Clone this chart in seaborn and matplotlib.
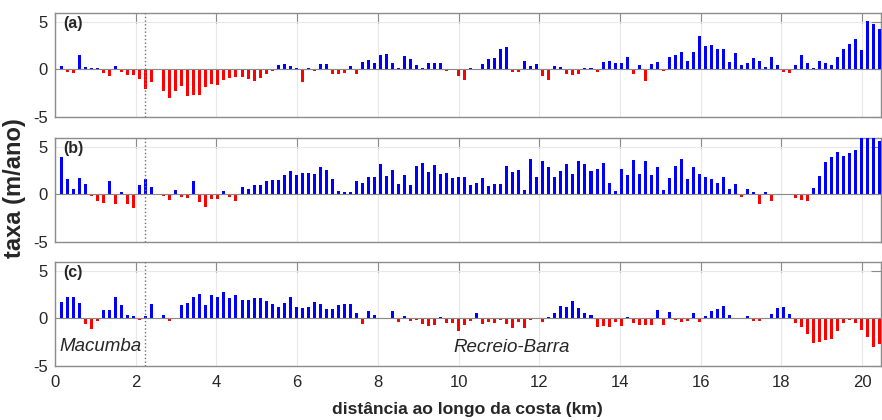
import numpy as np
import pandas as pd
import matplotlib
matplotlib.use('Agg')
import matplotlib.pyplot as plt
import seaborn as sns

# distance along the coast of each profile (km)
dist_km = np.linspace(0.16, 20.44, 137)

# shoreline change rate (m/ano)
taxa_a = [0.35, -0.25, -0.4, 1.5, 0.3, 0.1, 0.1, -0.35, -0.7, 0.4,
          -0.25, -0.6, -0.6, -1.0, -2.1, -1.3, -0.05, -2.3, -3.0, -2.3,
          -1.8, -2.8, -2.75, -2.7, -1.9, -1.55, -1.65, -1.1, -0.95, -0.8,
          -0.75, -1.05, -1.25, -0.95, -0.5, -0.2, 0.5, 0.55, 0.4, 0.15,
          -1.3, 0.2, -0.15, 0.55, 0.6, -0.5, -0.5, -0.4, 0.4, -0.5,
          0.8, 0.95, 0.7, 1.55, 1.6, 0.7, 0.15, 1.4, 1.15, 0.5,
          0.1, 0.7, 0.7, 0.7, -0.15, -0.1, -0.7, -1.15, 0.15, -0.1,
          0.6, 1.1, 1.2, 2.2, 2.4, -0.25, -0.25, 0.85, 0.4, 0.6,
          -0.7, -1.1, 0.35, 0.3, -0.5, -0.55, -0.5, 0.17, 0.17, -0.3,
          0.75, 0.85, 0.7, 0.65, 1.3, -0.5, 0.45, -1.25, 0.6, 0.75,
          -0.15, 1.35, 1.55, 1.8, 0.9, 1.85, 3.55, 2.5, 2.6, 2.15,
          2.2, 0.75, 1.7, 0.5, 0.7, 1.2, 0.9, 0.3, 1.3, 0.45,
          -0.3, -0.4, 0.5, 1.55, 0.7, 0.17, 0.85, 0.65, 0.45, 1.3,
          2.15, 2.65, 3.25, 2.05, 5.1, 4.75, 4.25]
taxa_b = [3.9, 1.6, 0.55, 1.75, 1.05, -0.15, -0.7, -0.95, 1.45, -1.0,
          0.2, -1.0, -1.45, 1.0, 1.65, 0.75, -0.05, -0.15, -0.6, 0.45,
          -0.25, -0.4, 1.45, -0.8, -1.35, -0.5, -0.5, 0.4, -0.3, -0.65,
          0.75, 0.55, 1.0, 1.0, 1.45, 1.55, 1.5, 2.0, 2.5, 2.05,
          2.3, 2.25, 2.15, 2.85, 2.6, 1.65, 0.4, 0.25, 0.25, 1.4,
          1.25, 1.8, 1.8, 3.2, 1.95, 2.55, 1.1, 2.05, 1.0, 3.0,
          3.3, 2.4, 3.1, 2.1, 2.25, 1.75, 1.8, 1.8, 1.0, 1.2,
          1.7, 0.9, 1.1, 1.1, 3.0, 2.4, 2.6, 0.5, 3.7, 1.8,
          3.55, 2.85, 1.8, 2.45, 3.2, 2.15, 3.55, 3.2, 2.5, 2.7,
          3.35, 1.2, 0.35, 2.7, 2.0, 3.65, 2.15, 3.55, 2.0, 2.9,
          0.5, 1.7, 2.95, 3.7, 1.6, 2.85, 2.1, 1.85, 1.6, 1.2,
          1.8, 0.55, 1.1, -0.25, 0.6, 0.2, -1.0, 0.2, -0.75, -0.1,
          -0.1, -0.1, -0.4, -0.55, -0.75, 0.7, 1.9, 3.4, 3.9, 4.5,
          4.1, 4.35, 4.7, 6.3, 6.3, 5.9, 5.6]
taxa_c = [1.7, 2.25, 2.25, 1.6, -0.6, -1.1, -0.3, 0.85, 0.85, 2.25,
          1.4, 0.4, 0.3, -0.2, 0.3, 1.5, 0.05, 0.4, -0.3, -0.1,
          1.4, 1.6, 2.25, 2.6, 1.45, 2.5, 2.3, 2.8, 2.15, 2.5,
          1.9, 1.95, 2.2, 2.2, 1.85, 1.5, 1.25, 1.65, 2.3, 1.15,
          1.05, 1.2, 1.7, 1.5, 0.95, 0.95, 1.4, 1.5, 1.5, 0.6,
          -0.6, 0.8, 0.4, -0.1, -0.1, 0.8, -0.4, 0.3, -0.25, -0.2,
          -0.6, -0.8, -0.7, 0.15, -0.45, -0.5, -1.3, -0.7, -0.25, 0.6,
          -0.6, -0.4, -0.45, -0.2, -0.6, -1.05, -0.4, -1.0, -0.15, -0.1,
          -0.4, 0.1, 0.6, 1.3, 1.15, 1.8, 1.05, 0.6, 0.4, -0.9,
          -0.85, -0.9, -0.4, -0.85, 0.15, -0.5, -0.75, -0.75, -0.7, 0.9,
          -0.65, 0.65, -0.2, -0.4, -0.3, 0.6, -0.4, 0.3, 0.8, 1.0,
          1.3, 0.4, -0.1, -0.1, 0.2, -0.25, -0.3, -0.1, 0.5, 1.1,
          1.2, 0.5, -0.45, -0.95, -1.65, -2.65, -2.5, -2.3, -2.15, -1.3,
          -0.45, -0.15, -0.45, -1.25, -1.95, -3.0, -2.7]

panel_labels = ['(a)', '(b)', '(c)']
xticks = list(range(0, 21, 2))
yticks = [-5, 0, 5]
divisa_km = 2.22  # Macumba / Recreio-Barra boundary

sns.set_style('white')
plt.rcParams['font.family'] = ['Liberation Sans', 'DejaVu Sans']
plt.rcParams['axes.unicode_minus'] = False

fig = plt.figure(figsize=(8.82, 4.2), dpi=100)
bottoms = [0.722, 0.4245, 0.1293]
edge = '#8c8c8c'

for k, (vals, lab) in enumerate(zip([taxa_a, taxa_b, taxa_c], panel_labels)):
    ax = fig.add_axes([0.0624, bottoms[k], 0.9365, 0.248])
    df = pd.DataFrame({'dist': dist_km, 'taxa': vals})
    df['sinal'] = np.where(df.taxa >= 0, 'pos', 'neg')
    sns.barplot(data=df, x='dist', y='taxa', hue='sinal',
                palette={'pos': 'blue', 'neg': 'red'}, native_scale=True,
                dodge=False, width=0.5, saturation=1, errorbar=None,
                legend=False, linewidth=0, ax=ax, zorder=3)
    ax.axhline(0, color='#8a8a8a', lw=0.8, zorder=4)
    ax.axvline(divisa_km, color='#707070', ls=':', lw=1, zorder=5)
    ax.set_xlim(0, 20.47)
    ax.set_ylim(-5, 6)
    ax.set_xticks(xticks)
    ax.set_yticks(yticks)
    ax.grid(True, color='#e8e8e8', lw=0.8)
    ax.set_axisbelow(True)
    ax.set_xlabel('')
    ax.set_ylabel('')
    for s in ax.spines.values():
        s.set_color(edge)
        s.set_linewidth(1)
    ax.tick_params(direction='in', length=7, top=True, right=True,
                   color=edge, labelcolor='#262626', labelsize=12)
    ax.tick_params(axis='y', pad=5)
    ax.tick_params(axis='x', pad=7)
    if k < 2:
        ax.set_xticklabels([])
    ax.text(0.01, 0.97, lab, transform=ax.transAxes, ha='left', va='top',
            fontsize=11.5, fontweight='bold')

ax.text(0.12, -3.5, 'Macumba', style='italic', fontsize=13.5, ha='left',
        va='baseline', color='#262626')
ax.text(9.88, -3.55, 'Recreio-Barra', style='italic', fontsize=13.5,
        ha='left', va='baseline', color='#262626')

fig.text(0.016, 0.552, 'taxa (m/ano)', rotation=90, ha='center', va='center',
         fontsize=17, fontweight='bold', color='#262626')
fig.text(0.53, 0.026, 'distância ao longo da costa (km)', ha='center',
         va='center', fontsize=12.6, fontweight='bold', color='#262626')

fig.savefig('out.png', dpi=100)
